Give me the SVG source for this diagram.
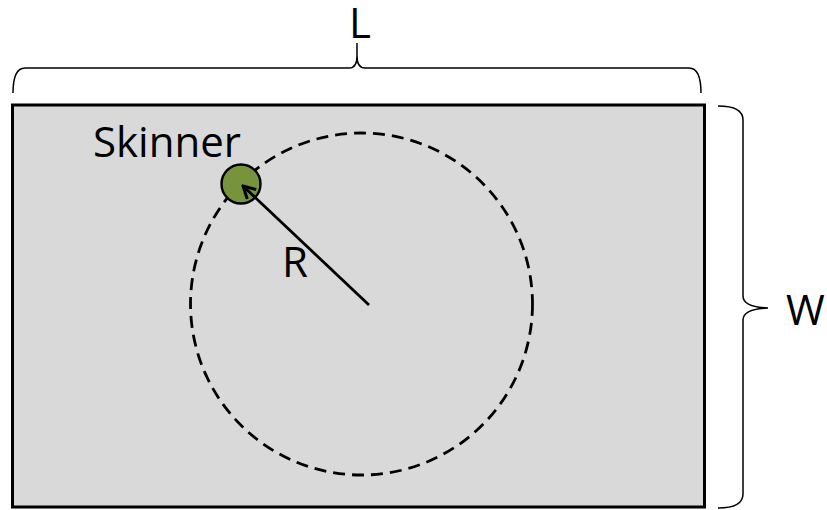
<svg xmlns="http://www.w3.org/2000/svg" width="827" height="510" viewBox="0 0 827 510">
<style>
.lbl{font-family:"Open Sans","Liberation Sans",sans-serif;font-size:42px;fill:#000}
.brace{fill:none;stroke:#000;stroke-width:1.5}
</style>
<defs>
<marker id="arr" markerWidth="16" markerHeight="16" refX="14" refY="8" orient="auto" markerUnits="userSpaceOnUse" viewBox="0 0 16 16">
<path d="M2,1.5 L14,8 L2,14.5" fill="none" stroke="#000" stroke-width="3"/>
</marker>
</defs>
<g id="field">
<rect x="12.5" y="105" width="692" height="402" fill="#d9d9d9" stroke="#000" stroke-width="3"/>
</g>
<g id="orbit">
<circle cx="361.5" cy="304" r="171" fill="none" stroke="#000" stroke-width="2.8" stroke-dasharray="12 7"/>
</g>
<g id="skinner">
<circle cx="241" cy="184" r="19.5" fill="#77933c" stroke="#000" stroke-width="2.4"/>
<text class="lbl" x="93" y="157">Skinner</text>
</g>
<g id="connectors">
<line x1="369" y1="305" x2="243" y2="186" stroke="#000" stroke-width="2.8" marker-end="url(#arr)"/>
<path class="brace" d="M13,93 Q13,68 25,68 L349,68 Q357,68 357,56 L357,43 L357,56 Q357,68 365,68 L689,68 Q701,68 701,93"/>
<path class="brace" d="M718,106 Q743,106 743,120 L743,296 Q743,307 768,308 Q743,309 743,320 L743,494 Q743,508 718,508"/>
</g>
<g id="labels">
<text class="lbl" x="282" y="277">R</text>
<text class="lbl" x="360" y="38" text-anchor="middle">L</text>
<text class="lbl" x="786" y="325">W</text>
</g>
</svg>
